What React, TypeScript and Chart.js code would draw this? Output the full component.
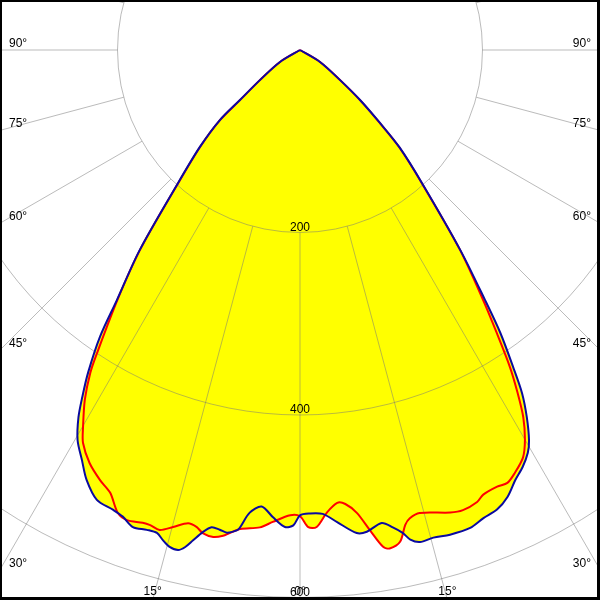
import { useEffect, useRef } from 'react';
import { Chart, registerables } from 'chart.js';

Chart.register(...registerables);

// Luminous intensity (cd) vs angle from nadir (degrees)
// C0-C180 plane (blue), left half = C180, right half = C0
const blueLeftAngles = [0, 0.8, 1.8, 3.3, 4.8, 6.2, 7.2, 7.5, 8.6, 9.5, 10.5, 11.4, 12.3, 13.0, 13.7, 14.7, 15.6, 16.5, 17.7, 19.3, 20.8, 22.1, 24.3, 26.4, 28.0, 29.7, 31.1, 32.1, 33.3, 34.9, 36.2, 38.7, 42.5, 45.9, 48.8, 50.2, 53.1, 59, 65];
const blueLeftValues = [510, 521, 523, 513, 502, 510, 528, 531, 535, 533, 532, 539, 550, 559, 564, 563, 558, 552, 552, 554, 547, 544, 541, 526, 509, 492, 470, 449, 423, 383, 340, 281, 198, 153, 117, 86, 55, 26, 0];
const blueRightAngles = [0, 1.2, 2.8, 4.5, 6.7, 7.9, 9.8, 11.0, 12.0, 12.7, 13.7, 15.3, 17.2, 19.6, 21.4, 23.2, 24.9, 26.6, 28.1, 29.5, 30.4, 31.7, 32.9, 33.9, 35.3, 36.5, 38.7, 42.5, 45.6, 47.6, 50.2, 53.1, 59, 65];
const blueRightValues = [510, 508, 509, 519, 533, 533, 526, 533, 541, 550, 555, 554, 556, 556, 551, 548, 540, 527, 518, 507, 496, 473, 448, 419, 380, 341, 281, 198, 153, 119, 86, 55, 26, 0];

// C90-C270 plane (red)
const redLeftAngles = [0, 1.2, 3.3, 4.8, 7.1, 8.3, 9.0, 10.1, 11.4, 12.2, 13.3, 14.9, 16.3, 17.5, 18.4, 20.2, 21.5, 23.2, 24.9, 27.0, 28.9, 29.9, 31.6, 33.0, 33.8, 36.2, 38.7, 42.5, 45.9, 48.8, 50.2, 53.1, 59, 65];
const redLeftValues = [511, 510, 518, 525, 529, 535, 539, 542, 540, 535, 533, 541, 548, 546, 546, 549, 545, 528, 520, 508, 492, 477, 450, 422, 400, 338, 280, 197, 152, 116, 85, 55, 26, 0];
const redRightAngles = [0, 1.0, 2.0, 3.3, 4.7, 5.7, 7.0, 8.3, 9.5, 10.2, 11.5, 12.5, 13.2, 14.5, 18.0, 19.5, 21.4, 22.4, 24.3, 25.6, 26.9, 28.7, 30.0, 31.3, 32.4, 33.5, 34.8, 36.2, 38.7, 42.5, 45.6, 47.6, 50.2, 53.1, 59, 65];
const redRightValues = [511, 523, 523, 508, 498, 500, 511, 532, 552, 555, 550, 533, 527, 524, 533, 535, 532, 527, 525, 526, 520, 509, 493, 471, 445, 417, 378, 340, 280, 197, 152, 118, 85, 55, 26, 0];

// Grid
const ringValues = [200, 400, 600, 800];
const ringLabels = ['200', '400', '600'];
const spokeStep = 15;
const sideLabelAngles = [30, 45, 60, 75, 90];
const bottomLabelAngles = [0, 15];

const PX_PER_CD = 0.9125;
const W = 600;
const H = 600;
const CENTER_Y_PX = 50;

function buildCurve(la: number[], lv: number[], ra: number[], rv: number[]) {
  const pts: { x: number; y: number }[] = [];
  for (let i = la.length - 1; i >= 0; i--) {
    const t = (la[i] * Math.PI) / 180;
    pts.push({ x: -lv[i] * Math.sin(t), y: -lv[i] * Math.cos(t) });
  }
  for (let i = 1; i < ra.length; i++) {
    const t = (ra[i] * Math.PI) / 180;
    pts.push({ x: rv[i] * Math.sin(t), y: -rv[i] * Math.cos(t) });
  }
  return pts;
}

const FONT = '12px "Liberation Sans", Arial, sans-serif';

function tracePath(ctx: CanvasRenderingContext2D, pts: any[]) {
  pts.forEach((p: any, j: number) => {
    if (j === 0) {
      ctx.moveTo(p.x, p.y);
    } else {
      const prev = pts[j - 1];
      if (prev.cp2x !== undefined && p.cp1x !== undefined) {
        ctx.bezierCurveTo(prev.cp2x, prev.cp2y, p.cp1x, p.cp1y, p.x, p.y);
      } else {
        ctx.lineTo(p.x, p.y);
      }
    }
  });
}

const polarPlugin = {
  id: 'polarGrid',
  beforeDatasetsDraw(chart: any) {
    const ctx = chart.ctx as CanvasRenderingContext2D;
    const xs = chart.scales.x;
    const ys = chart.scales.y;
    const cx = xs.getPixelForValue(0);
    const cy = ys.getPixelForValue(0);
    const k = xs.getPixelForValue(100) - cx; // px per 100 cd
    ctx.save();
    // union fill of both curves
    chart.data.datasets.forEach((_ds: any, i: number) => {
      const meta = chart.getDatasetMeta(i);
      ctx.beginPath();
      tracePath(ctx, meta.data);
      ctx.closePath();
      ctx.fillStyle = '#ffff00';
      ctx.fill();
    });
    // rings
    ctx.strokeStyle = 'rgba(120,120,120,0.5)';
    ctx.lineWidth = 1;
    ringValues.forEach((v) => {
      ctx.beginPath();
      ctx.arc(cx, cy, (v * k) / 100, 0, Math.PI * 2);
      ctx.stroke();
    });
    // spokes
    const r0 = (ringValues[0] * k) / 100;
    const r1 = 2000;
    for (let a = 0; a < 360; a += spokeStep) {
      const t = (a * Math.PI) / 180;
      const dx = Math.sin(t);
      const dy = Math.cos(t);
      ctx.beginPath();
      ctx.moveTo(cx + dx * r0, cy + dy * r0);
      ctx.lineTo(cx + dx * r1, cy + dy * r1);
      ctx.stroke();
    }
    // labels
    ctx.fillStyle = '#000';
    ctx.font = FONT;
    ctx.textBaseline = 'alphabetic';
    const area = chart.chartArea;
    sideLabelAngles.forEach((a) => {
      const t = (a * Math.PI) / 180;
      const half = cx - area.left;
      const yl = cy + (a === 90 ? 0 : half / Math.tan(t));
      ctx.textAlign = 'left';
      ctx.fillText(a + '°', area.left + 9, yl - 3);
      ctx.textAlign = 'right';
      ctx.fillText(a + '°', area.right - 9, yl - 3);
    });
    bottomLabelAngles.forEach((a) => {
      const t = (a * Math.PI) / 180;
      const off = (area.bottom - cy) * Math.tan(t);
      ctx.textAlign = 'center';
      ctx.fillText(a + '°', cx - off, area.bottom - 5);
      if (a !== 0) ctx.fillText(a + '°', cx + off, area.bottom - 5);
    });
    ringLabels.forEach((lab, i) => {
      const r = (ringValues[i] * k) / 100;
      ctx.textAlign = 'center';
      ctx.fillText(lab, cx, cy + r - 2);
    });
    ctx.restore();
  },
  afterDraw(chart: any) {
    const ctx = chart.ctx as CanvasRenderingContext2D;
    ctx.save();
    ctx.fillStyle = '#000';
    ctx.fillRect(0, 0, W, 2);
    ctx.fillRect(0, 0, 2, H);
    ctx.fillRect(W - 3, 0, 3, H);
    ctx.fillRect(0, H - 3, W, 3);
    ctx.restore();
  },
};

export default function App() {
  const ref = useRef<HTMLCanvasElement | null>(null);
  useEffect(() => {
    if (!ref.current) return;
    const blue = buildCurve(blueLeftAngles, blueLeftValues, blueRightAngles, blueRightValues);
    const red = buildCurve(redLeftAngles, redLeftValues, redRightAngles, redRightValues);
    const xHalf = W / 2 / PX_PER_CD;
    const chart = new Chart(ref.current, {
      type: 'scatter',
      data: {
        datasets: [
          {
            label: 'C0-C180',
            data: blue,
            showLine: true,
            borderColor: 'rgb(10,10,160)',
            borderWidth: 2,
            pointRadius: 0,
            fill: false,
            tension: 0.3,
          },
          {
            label: 'C90-C270',
            data: red,
            showLine: true,
            borderColor: '#ff0000',
            borderWidth: 2,
            pointRadius: 0,
            fill: false,
            tension: 0.3,
          },
        ],
      },
      options: {
        responsive: false,
        animation: false,
        layout: { padding: 0 },
        plugins: { legend: { display: false }, tooltip: { enabled: false } },
        scales: {
          x: { type: 'linear', min: -xHalf, max: xHalf, display: false },
          y: {
            type: 'linear',
            min: -(H - CENTER_Y_PX) / PX_PER_CD,
            max: CENTER_Y_PX / PX_PER_CD,
            display: false,
          },
        },
      },
      plugins: [polarPlugin],
    });
    return () => chart.destroy();
  }, []);
  return (
    <div style={{ position: 'fixed', left: 0, top: 0, width: W, height: H, background: '#fff' }}>
      <canvas ref={ref} width={W} height={H} style={{ display: 'block' }} />
    </div>
  );
}
